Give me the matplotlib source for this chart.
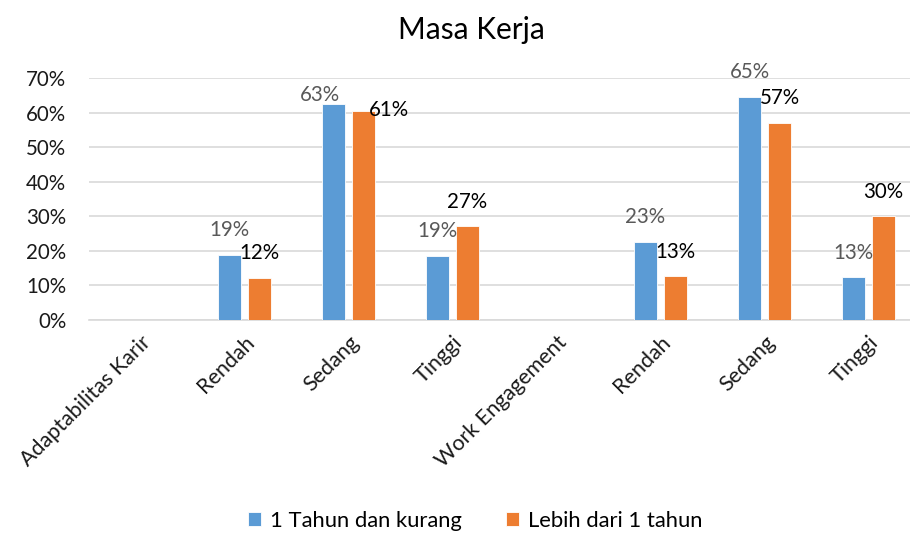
import matplotlib.pyplot as plt
import numpy as np

plt.rcParams["font.family"] = ["Lato", "DejaVu Sans"]

# data
categories = ["Adaptabilitas Karir", "Rendah", "Sedang", "Tinggi",
              "Work Engagement", "Rendah", "Sedang", "Tinggi"]
series_names = ["1 Tahun dan kurang", "Lebih dari 1 tahun"]
kurang = [np.nan, 0.188, 0.626, 0.186, np.nan, 0.226, 0.646, 0.125]
lebih = [np.nan, 0.122, 0.606, 0.272, np.nan, 0.128, 0.571, 0.301]
label_kurang = ["", "19%", "63%", "19%", "", "23%", "65%", "13%"]
label_lebih = ["", "12%", "61%", "27%", "", "13%", "57%", "30%"]

# label offsets in pixels (dx, dy) from bar top centre
off_kurang = [(0, 25), (0, 25), (-14, 9), (0, 25), (0, 25), (0, 25), (0, 25), (0, 24)]
off_lebih = [(0, 25), (0, 25), (25, 1), (0, 24), (0, 24), (0, 24), (0, 25), (0, 24)]

c_blue = "#5B9BD5"
c_orange = "#ED7D31"

fig = plt.figure(figsize=(9.1, 5.34), dpi=100)
ax = fig.add_axes([88.5 / 910, 214 / 534, 832 / 910, 241.7 / 534])

x = np.arange(len(categories))
w = 0.225
shift = 0.144
b1 = ax.bar(x - shift, kurang, w, color=c_blue, edgecolor="white", linewidth=0.6,
            label=series_names[0], zorder=3)
b2 = ax.bar(x + shift, lebih, w, color=c_orange, edgecolor="white", linewidth=0.6,
            label=series_names[1], zorder=3)

for i in range(len(x)):
    if label_kurang[i]:
        ax.annotate(label_kurang[i], (x[i] - shift, kurang[i]), xytext=off_kurang[i],
                    textcoords="offset pixels", ha="center", va="center",
                    fontsize=14.8, color="#595959")
    if label_lebih[i]:
        ax.annotate(label_lebih[i], (x[i] + shift, lebih[i]), xytext=off_lebih[i],
                    textcoords="offset pixels", ha="center", va="center",
                    fontsize=14.8, color="black")

ax.set_xlim(-0.5, len(categories) - 0.5)
ax.set_ylim(0, 0.7)
ax.set_yticks(np.arange(0, 0.71, 0.1))
ax.set_yticklabels([f"{int(round(v * 100))}%" for v in np.arange(0, 0.71, 0.1)])
ax.yaxis.grid(True, color="#d9d9d9", linewidth=1.2, zorder=0)
ax.set_axisbelow(True)
for s in ["top", "right", "left"]:
    ax.spines[s].set_visible(False)
ax.spines["bottom"].set_color("#d9d9d9")
ax.spines["bottom"].set_linewidth(1.2)
ax.tick_params(axis="y", length=0, pad=16, labelsize=14.8, colors="#1a1a1a")
ax.tick_params(axis="x", length=0, pad=9, labelsize=15.5, colors="#1a1a1a")
ax.set_xticks(x)
ax.set_xticklabels(categories, rotation=45, ha="right", va="top", rotation_mode="anchor")

fig.text(471 / 910, 1 - 30 / 534, "Masa Kerja", ha="center", va="center", fontsize=21.5)

fig.legend(handles=[b1, b2], loc="center", bbox_to_anchor=(475 / 910, 1 - 521 / 534),
           ncol=2, frameon=False, fontsize=15.8, handlelength=0.6, handleheight=0.6,
           handletextpad=0.4, columnspacing=2.0, borderpad=0.2)

fig.savefig("out.png", dpi=100)
